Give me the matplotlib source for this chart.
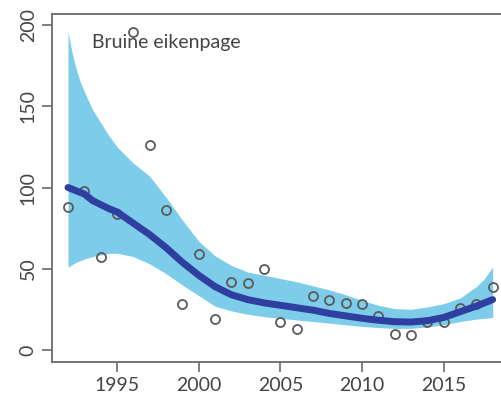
import matplotlib
matplotlib.use("Agg")
import matplotlib.pyplot as plt

# jaren en getelde aantallen
jaren = list(range(1992, 2019))
tellingen = [88, 98, 57, 84, 196, 126, 86, 28, 59, 19, 42, 41, 50, 17, 13,
             33, 31, 29, 28, 21, 10, 9, 17, 17, 26, 28, 39]

trend_jaren = [1992, 1992.25, 1992.5, 1992.75, 1993, 1993.5, 1994, 1994.5, 1995,
               1996, 1997, 1998, 1999, 2000, 2001, 2002, 2003, 2004, 2005, 2006,
               2007, 2008, 2009, 2010, 2011, 2012, 2013, 2014, 2015, 2016, 2017,
               2017.5, 2018]
trend = [100, 99, 98, 97, 96, 92, 89.5, 87, 85,
         78, 71, 63, 54, 46, 39, 34, 31, 29, 27.5, 26,
         24.5, 22.5, 21, 19.5, 18.3, 17.4, 17.2, 18, 20, 23.5, 27,
         29, 31]
boven = [196, 183, 173, 165, 159, 148, 140, 132, 125,
         115, 107, 94, 80, 67, 58, 52, 48, 46, 44, 42,
         39.5, 37, 34, 30.5, 27.5, 25.5, 25, 26.5, 28.5, 32, 39,
         44, 51]
onder = [51, 52.5, 54, 55, 56, 57.5, 58.5, 59.5, 59.5,
         57.5, 53, 47, 40, 33.5, 27, 24, 22, 20.5, 19.5, 18.5,
         17.5, 16.5, 15.5, 14.5, 13.8, 13.3, 13.3, 14.2, 15.5, 17.5, 19,
         19.5, 20]

xticks = [1995, 2000, 2005, 2010, 2015]
yticks = [0, 50, 100, 150, 200]

plt.rcParams['font.family'] = ['Lato', 'DejaVu Sans']

fig = plt.figure(figsize=(5.02, 4.0), dpi=100)
ax = fig.add_axes([52/502, 1-362/400, (501-52)/502, (362-14)/400])

ax.fill_between(trend_jaren, onder, boven, color='#7dcdea', linewidth=0, zorder=1)
ax.plot(jaren, tellingen, 'o', mfc='none', mec='#5a5a5a', mew=1.3, ms=6.5, zorder=2)
ax.plot(trend_jaren, trend, color='#2e3f9f', linewidth=5, solid_capstyle='round',
        solid_joinstyle='round', zorder=3)

ax.set_xlim(1991.02, 2018.51)
ax.set_ylim(-7.4, 206.8)
ax.set_xticks(xticks)
ax.set_yticks(yticks)
ax.set_yticklabels([str(v) for v in yticks], rotation=90, va='center')

ax.spines['right'].set_visible(False)
for s in ['left', 'top', 'bottom']:
    ax.spines[s].set_color('#6a6a6a')
    ax.spines[s].set_linewidth(1.3)
ax.tick_params(direction='out', length=7, width=1.2, color='#6a6a6a',
               labelsize=14, labelcolor='#444444', pad=4)

ax.text(1993.45, 189, 'Bruine eikenpage', fontsize=14, color='#444444',
        ha='left', va='center')

fig.savefig('out.png', dpi=100)
